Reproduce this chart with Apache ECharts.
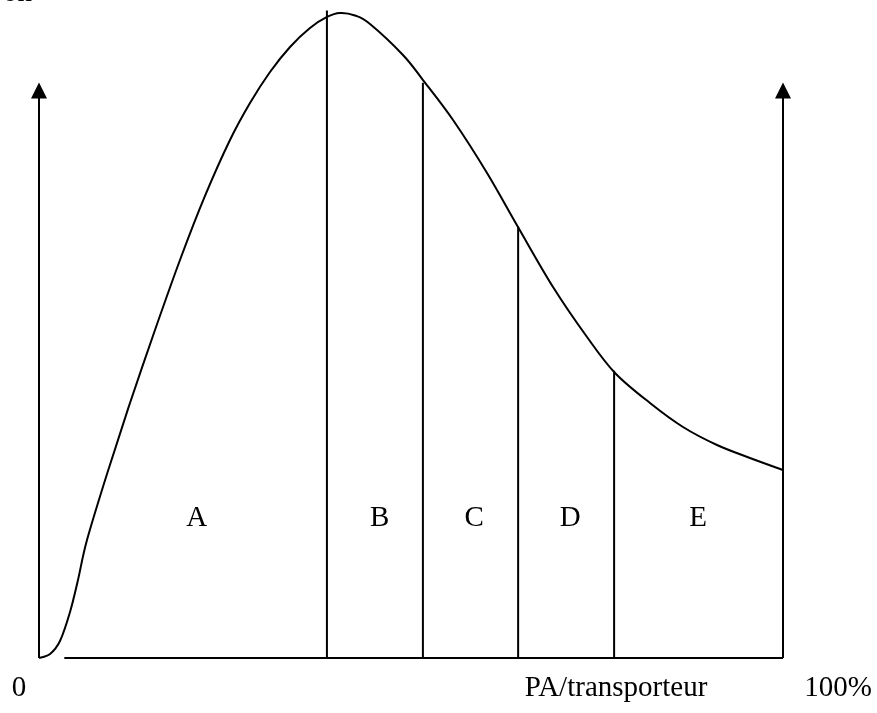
<!DOCTYPE html>
<html>
<head>
<meta charset="utf-8">
<script src="https://cdn.jsdelivr.net/npm/echarts@6/dist/echarts.min.js"></script>
<style>
  html, body { margin: 0; padding: 0; background: #fff; }
  #main { width: 877px; height: 713px; }
</style>
</head>
<body>
<div id="main"></div>
<script>
// courbe (x en % de PA/transporteur, y en unités relatives)
const curveX = [0, 1.48, 2.82, 4.17, 5.24, 6.45, 9.14, 12.23, 15.59, 18.95, 22.31, 25.67, 28.36, 31.05, 33.74, 36.42, 38.71, 40.46, 42.47, 44.49, 48.92, 51.61, 55.65, 60.22, 64.38, 69.09, 73.66, 77.42, 82.12, 86.56, 91.13, 95.56, 100];
const curveY = [0, 0.62, 2.62, 7.08, 12.0, 18.15, 28.31, 39.23, 50.46, 61.23, 71.08, 79.69, 85.38, 90.15, 94.0, 96.92, 98.62, 99.23, 98.85, 97.54, 92.77, 88.92, 82.77, 74.62, 66.31, 57.08, 49.38, 43.85, 39.23, 35.54, 32.77, 30.77, 28.92];

// séparations des zones
const dividerX = [38.7, 51.6, 64.4, 77.3];
const dividerTop = [99.6, 88.5, 66.4, 44.2];

// zones
const zoneNames = ["A", "B", "C", "D", "E"];
const zoneX = [21.2, 45.8, 58.5, 71.4, 88.6];
const zoneLabelY = 21.5;

const arrowTop = 87.3;
const baseStart = 3.4;

const chart = echarts.init(document.getElementById("main"));
const font = "'Liberation Serif', 'Times New Roman', serif";
const black = "#000";

// courbe lissée (Catmull-Rom) passant par les points, via les coordonnées de l'axe
const renderCurve = (params, api) => {
  const pts = curveX.map((x, i) => api.coord([x, curveY[i]]));
  let d = "M" + pts[0][0] + " " + pts[0][1];
  for (let i = 0; i < pts.length - 1; i++) {
    const p0 = pts[i - 1] || pts[i];
    const p1 = pts[i];
    const p2 = pts[i + 1];
    const p3 = pts[i + 2] || p2;
    const c1 = [p1[0] + (p2[0] - p0[0]) / 6, p1[1] + (p2[1] - p0[1]) / 6];
    const c2 = [p2[0] - (p3[0] - p1[0]) / 6, p2[1] - (p3[1] - p1[1]) / 6];
    d += " C" + c1.join(" ") + " " + c2.join(" ") + " " + p2.join(" ");
  }
  return {
    type: "path",
    shape: { pathData: d },
    style: { stroke: black, fill: "none", lineWidth: 2 },
  };
};

const series = [
  {
    type: "custom",
    data: [[curveX[0], curveY[0]]],
    renderItem: renderCurve,
    clip: false,
    animation: false,
    silent: true,
  },
  {
    type: "line",
    data: [],
    animation: false,
    markLine: {
      silent: true,
      animation: false,
      symbol: ["none", "triangle"],
      symbolSize: [16, 16],
      label: { show: false },
      lineStyle: { color: black, width: 2, type: "solid" },
      data: [
        [{ coord: [0, 0] }, { coord: [0, arrowTop] }],
        [{ coord: [100, 0] }, { coord: [100, arrowTop] }],
        [{ coord: [baseStart, 0], symbol: "none" }, { coord: [100, 0], symbol: "none" }],
      ],
    },
  },
  {
    type: "scatter",
    data: zoneNames.map((n, i) => ({ name: n, value: [zoneX[i], zoneLabelY] })),
    symbolSize: 1,
    animation: false,
    itemStyle: { opacity: 1, color: "rgba(0,0,0,0)" },
    label: {
      show: true,
      position: "inside",
      formatter: "{b}",
      color: black,
      fontFamily: font,
      fontSize: 29,
    },
  },
];

dividerX.forEach((x, i) => {
  series.push({
    type: "line",
    data: [[x, 0], [x, dividerTop[i]]],
    showSymbol: false,
    clip: false,
    animation: false,
    lineStyle: { color: black, width: 2 },
  });
});

chart.setOption({
  backgroundColor: "#fff",
  animation: false,
  grid: { left: 39, top: 8, width: 744, height: 650 },
  xAxis: {
    type: "value",
    min: 0,
    max: 100,
    axisLine: { show: false },
    axisTick: { show: false },
    axisLabel: { show: false },
    splitLine: { show: false },
  },
  yAxis: {
    type: "value",
    min: 0,
    max: 100,
    axisLine: { show: false },
    axisTick: { show: false },
    axisLabel: { show: false },
    splitLine: { show: false },
  },
  graphic: [
    {
      type: "text",
      x: 32,
      y: -7,
      style: { text: "on", font: "29px " + font, fill: black, align: "right", verticalAlign: "middle" },
    },
    {
      type: "text",
      x: 19,
      y: 688,
      style: { text: "0", font: "29px " + font, fill: black, align: "center", verticalAlign: "middle" },
    },
    {
      type: "text",
      x: 616,
      y: 688,
      style: { text: "PA/transporteur", font: "29px " + font, fill: black, align: "center", verticalAlign: "middle" },
    },
    {
      type: "text",
      x: 838,
      y: 688,
      style: { text: "100%", font: "29px " + font, fill: black, align: "center", verticalAlign: "middle" },
    },
  ],
  series,
});
</script>
</body>
</html>
